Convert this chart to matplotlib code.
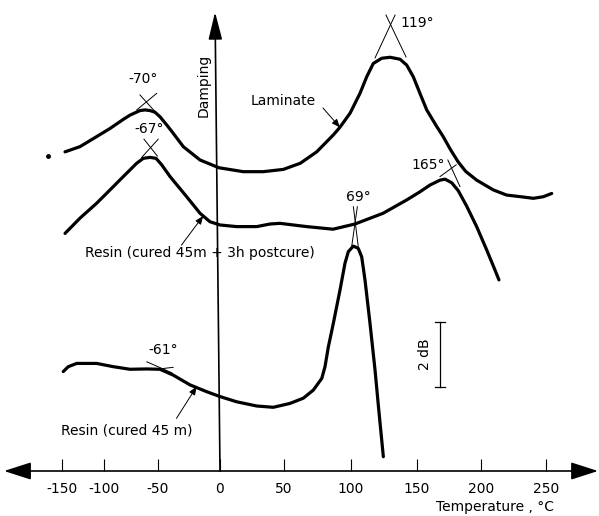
import numpy as np
import matplotlib
matplotlib.use("Agg")
import matplotlib.pyplot as plt

# temperature (deg C) and damping (dB above the temperature axis)
lam_t = [-146.4, -128.6, -108.7, -94.4, -82.1, -75.9, -66.7, -62.0, -57.4, -52.8, -48.4, -43.0,
         -37.7, -29.6, -16.1, -0.8, 18.2, 33.8, 49.5, 62.2, 74.4, 86.8, 91.8, 99.3, 106.8,
         111.9, 116.9, 123.3, 129.6, 137.1, 142.2, 147.2, 152.3, 157.6, 165.4, 170.3, 176.0,
         182.0, 188.0, 196.6, 209.4, 219.7, 230.4, 240.3, 248.0, 254.4]
lam_db = [9.82, 9.98, 10.29, 10.54, 10.82, 10.95, 11.09, 11.11, 11.09, 11.04, 10.90, 10.65,
          10.39, 9.98, 9.57, 9.33, 9.21, 9.21, 9.28, 9.47, 9.82, 10.34, 10.58, 11.01, 11.62,
          12.13, 12.54, 12.70, 12.73, 12.67, 12.49, 12.13, 11.62, 11.11, 10.60, 10.30, 9.90,
          9.52, 9.22, 8.95, 8.65, 8.49, 8.44, 8.39, 8.44, 8.54]

post_t = [-146.4, -128.6, -108.7, -94.4, -82.1, -69.7, -63.6, -57.4, -51.8, -47.0, -40.3, -26.9,
          -16.1, -8.1, 0.0, 13.0, 28.7, 39.1, 46.9, 56.9, 66.9, 86.6, 103.0, 124.3, 142.2,
          152.3, 160.2, 168.0, 171.9, 177.1, 182.3, 188.8, 196.6, 204.4, 210.8, 213.8]
post_db = [7.31, 7.78, 8.24, 8.65, 9.06, 9.47, 9.62, 9.65, 9.62, 9.42, 9.06, 8.44,
           7.93, 7.67, 7.57, 7.52, 7.52, 7.60, 7.62, 7.57, 7.52, 7.44, 7.60, 7.93, 8.34,
           8.59, 8.80, 8.95, 8.98, 8.87, 8.62, 8.15, 7.52, 6.80, 6.18, 5.88]

cure_t = [-148.5, -142.5, -132.5, -108.7, -91.4, -75.9, -60.4, -48.4, -37.7, -24.2, -10.7, 0.0,
          13.0, 28.7, 41.6, 54.5, 64.4, 71.9, 78.2, 80.6, 83.1, 86.8, 91.8, 95.5, 98.0, 101.8,
          105.5, 108.1, 110.6, 114.4, 118.2, 120.8, 124.5]
cure_db = [3.06, 3.21, 3.31, 3.31, 3.21, 3.13, 3.14, 3.13, 2.95, 2.65, 2.44, 2.29,
           2.13, 2.00, 1.96, 2.08, 2.24, 2.49, 2.85, 3.21, 3.82, 4.54, 5.57, 6.39, 6.75, 6.92,
           6.85, 6.59, 5.88, 4.54, 3.11, 1.98, 0.44]

x_ticks = [-150, -100, -50, 0, 50, 100, 150, 200, 250]
x_tick_labels = ["-150", "-100", "-50", "0", "50", "100", "150", "200", "250"]

# the printed axis is not evenly spaced, so map the tick values onto where they sit
tick_px = [62, 104, 158, 220, 284, 351, 417, 481, 546]
scale_t = [-300] + x_ticks + [400]
scale_px = [-64] + tick_px + [741]

def forward(t):
    return np.interp(t, scale_t, scale_px)

def inverse(p):
    return np.interp(p, scale_px, scale_t)

fig = plt.figure(figsize=(5.99, 5.16), dpi=100)
ax = fig.add_axes([0, 0, 1, 1])
ax.set_xscale("function", functions=(forward, inverse))
ax.set_xlim(inverse(0), inverse(599))
ax.set_ylim(-45 / 32.5, 471 / 32.5)

for s in ["top", "left", "right"]:
    ax.spines[s].set_visible(False)
ax.spines["bottom"].set_position(("data", 0))
ax.spines["bottom"].set_visible(False)
ax.set_yticks([])
ax.set_xticks(x_ticks, x_tick_labels)
ax.tick_params(axis="x", direction="in", length=8.6, width=0.8, pad=8, labelsize=10)
ax.patch.set_alpha(0)

# axes with arrow heads
ax.annotate("", xy=(290, 0), xytext=(-219, 0),
            arrowprops=dict(arrowstyle="<|-|>,head_length=1.4,head_width=0.45", color="black",
                            lw=1.2, shrinkA=0, shrinkB=0, mutation_scale=12))
ax.annotate("", xy=(-4, 14.12), xytext=(0, 0),
            arrowprops=dict(arrowstyle="-|>,head_length=1.4,head_width=0.35", color="black",
                            lw=1.2, shrinkA=0, shrinkB=0, mutation_scale=12))

# curves
for t, d in [(lam_t, lam_db), (post_t, post_db), (cure_t, cure_db)]:
    ax.plot(t, d, color="black", lw=2.3, solid_joinstyle="round", solid_capstyle="round")
ax.plot([-166.7], [9.69], marker="o", ms=2.5, color="black")

# tangent constructions at the peaks
marks = [
    [(-69.7, 11.11), (-51.2, 11.62)], [(-66.7, 11.57), (-52.8, 11.06)],
    [(-65.1, 9.65), (-49.8, 10.21)], [(-63.0, 10.21), (-50.6, 9.69)],
    [(118.2, 12.71), (133.4, 14.03)], [(141.7, 12.74), (126.5, 14.03)],
    [(168.0, 9.06), (180.6, 9.42)], [(174.1, 9.57), (183.6, 8.75)],
    [(101.8, 8.13), (105.5, 6.90)], [(104.8, 8.13), (100.5, 6.90)],
    [(-60.4, 3.36), (-38.7, 3.02)], [(-51.2, 3.13), (-37.8, 3.19)],
]
for (x0, y0), (x1, y1) in marks:
    ax.plot([x0, x1], [y0, y1], color="black", lw=0.7)

fs = 10
ax.text(-63.9, 12.06, "-70°", ha="center", va="center", fontsize=fs)
ax.text(-58.3, 10.52, "-67°", ha="center", va="center", fontsize=fs)
ax.text(137.1, 13.78, "119°", ha="left", va="center", fontsize=fs)
ax.text(158.6, 9.42, "165°", ha="center", va="center", fontsize=fs)
ax.text(105.3, 8.43, "69°", ha="center", va="center", fontsize=fs)
ax.text(-46.0, 3.72, "-61°", ha="center", va="center", fontsize=fs)
ax.text(-12.9, 11.88, "Damping", ha="center", va="center", rotation=90, fontsize=fs)

ax.text(49.2, 11.38, "Laminate", ha="center", va="center", fontsize=fs)
ax.text(-16.1, 6.71, "Resin (cured 45m + 3h postcure)", ha="center", va="center", fontsize=fs)
ax.text(-78.7, 1.26, "Resin (cured 45 m)", ha="center", va="center", fontsize=fs)

# leader arrows from the labels to their curves
leaders = [[(79.1, 11.17), (91.8, 10.57)],
           [(-31.1, 6.95), (-13.5, 7.85)],
           [(-35.1, 1.62), (-18.8, 2.60)]]
for start, end in leaders:
    ax.annotate("", xy=end, xytext=start,
                arrowprops=dict(arrowstyle="-|>,head_length=0.5,head_width=0.2", lw=0.7,
                                color="black", mutation_scale=10, shrinkA=0, shrinkB=0))

# 2 dB scale bar
ax.plot([168, 168], [2.58, 4.58], color="black", lw=0.9)
ax.plot([164.1, 171.9], [2.58, 2.58], color="black", lw=0.9)
ax.plot([164.1, 171.9], [4.58, 4.58], color="black", lw=0.9)
ax.text(156.2, 3.58, "2 dB", ha="center", va="center", rotation=90, fontsize=fs)

ax.text(210.8, -1.11, "Temperature , °C", ha="center", va="center", fontsize=fs)

fig.savefig("out.png", dpi=100)
